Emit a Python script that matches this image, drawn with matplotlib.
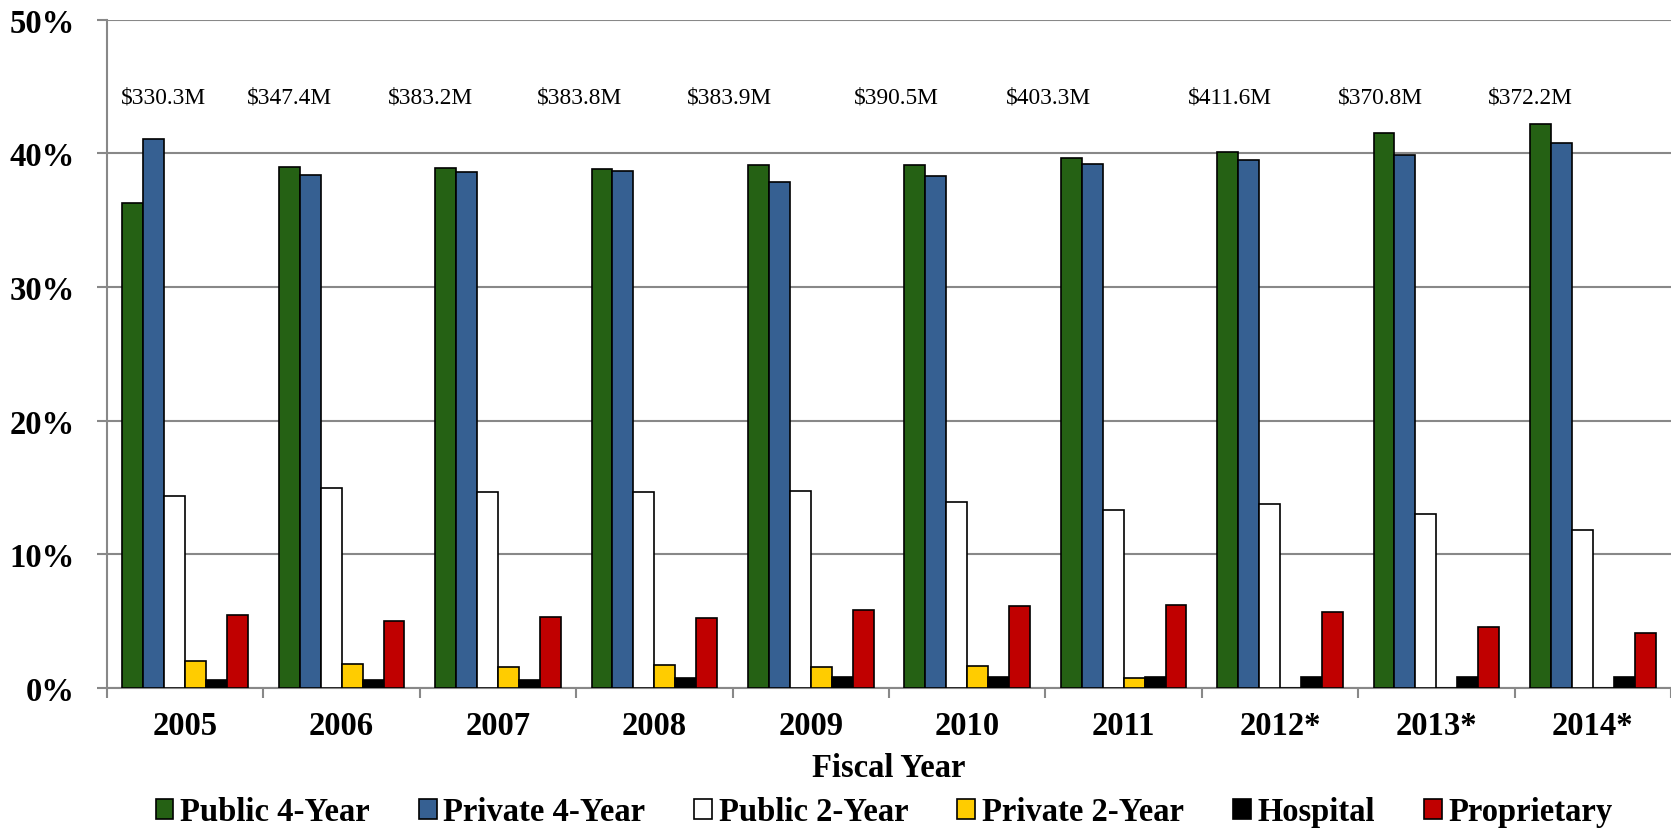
import matplotlib.pyplot as plt
import numpy as np

plt.rcParams['font.family'] = ['Liberation Serif', 'DejaVu Serif']

years = ['2005', '2006', '2007', '2008', '2009', '2010', '2011', '2012*', '2013*', '2014*']
totals = ['$330.3M', '$347.4M', '$383.2M', '$383.8M', '$383.9M',
          '$390.5M', '$403.3M', '$411.6M', '$370.8M', '$372.2M']

public4 = [36.3, 39.0, 38.9, 38.8, 39.1, 39.1, 39.65, 40.1, 41.5, 42.2]
private4 = [41.1, 38.35, 38.6, 38.65, 37.85, 38.3, 39.2, 39.5, 39.9, 40.8]
public2 = [14.4, 15.0, 14.7, 14.7, 14.75, 13.9, 13.3, 13.8, 13.0, 11.8]
private2 = [2.0, 1.8, 1.6, 1.7, 1.6, 1.65, 0.72, 0.0, 0.0, 0.0]
hospital = [0.63, 0.63, 0.63, 0.77, 0.83, 0.83, 0.8, 0.8, 0.8, 0.86]
proprietary = [5.45, 5.0, 5.3, 5.25, 5.8, 6.15, 6.2, 5.7, 4.6, 4.15]

series = [
    ('Public 4-Year', public4, '#256114'),
    ('Private 4-Year', private4, '#366092'),
    ('Public 2-Year', public2, '#ffffff'),
    ('Private 2-Year', private2, '#ffcc00'),
    ('Hospital', hospital, '#000000'),
    ('Proprietary', proprietary, '#c00000'),
]

# where the total-funding labels sit along each group
label_x = [-0.14, 0.67, 1.57, 2.52, 3.48, 4.55, 5.52, 6.68, 7.64, 8.60]
label_y = 44.2

fig = plt.figure(figsize=(16.71, 8.29), dpi=100)
ax = fig.add_axes([107 / 1671, 140 / 829, 1 - 107 / 1671, (689 - 20.7) / 829])

x = np.arange(len(years))
w = 0.134
for i, (name, vals, col) in enumerate(series):
    ax.bar(x + (i - 2.5) * w, vals, w, color=col, edgecolor='black',
           linewidth=1.2, label=name, zorder=3)

for lx, t in zip(label_x, totals):
    ax.text(lx, label_y, t, ha='center', va='center', fontsize=16.8)

big = 23.5
ax.set_xlim(-0.5, len(years) - 0.5)
ax.set_ylim(0, 50)
ax.set_yticks(np.arange(0, 51, 10))
ax.set_yticklabels(['%d%%' % v for v in range(0, 51, 10)],
                   fontsize=big, fontweight='bold')
ax.set_xticks(x)
ax.set_xticklabels(years, fontsize=big, fontweight='bold')
ax.set_xticks(np.arange(-0.5, len(years)), minor=True)
ax.tick_params(axis='x', which='major', length=0, pad=16)
ax.tick_params(axis='x', which='minor', length=7, width=1.5, color='#888888',
               direction='out')
ax.tick_params(axis='y', length=7, width=1.5, color='#888888', pad=16)

ax.grid(axis='y', color='#888888', linewidth=1.5, zorder=0)
ax.set_axisbelow(True)
for s in ['top', 'right']:
    ax.spines[s].set_visible(False)
for s in ['left', 'bottom']:
    ax.spines[s].set_color('#888888')
    ax.spines[s].set_linewidth(1.5)

fig.text(889 / 1671, 60 / 829, 'Fiscal Year', ha='center', va='center',
         fontsize=big, fontweight='bold')

leg = ax.legend(loc='center', bbox_to_anchor=(884 / 1671, 16 / 829),
                bbox_transform=fig.transFigure, ncol=6, frameon=False,
                prop={'size': big, 'weight': 'bold'}, handlelength=0.55,
                handleheight=0.55, handletextpad=0.2, columnspacing=1.5)

fig.savefig('out.png', dpi=100)
